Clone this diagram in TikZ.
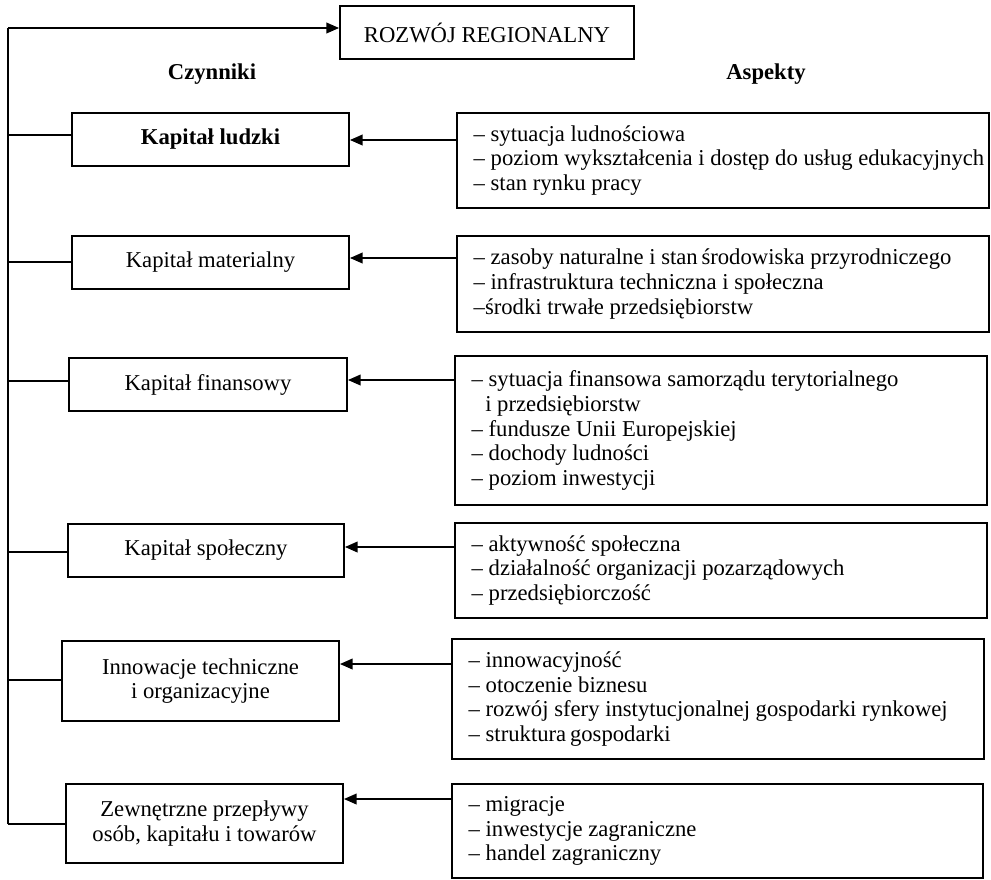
\documentclass[tikz,border=0pt]{standalone}
\usepackage{fontspec}
\setmainfont{Liberation Serif}
\usetikzlibrary{arrows.meta}
\begin{document}
\begin{tikzpicture}[x=0.75pt,y=-0.75pt,
  box/.style={draw, line width=1.4pt, inner sep=0pt},
  sz/.style 2 args={minimum width=#1*0.75pt, minimum height=#2*0.75pt},
  conn/.style={line width=1.2pt},
  arr/.style={line width=1.2pt, -{Triangle[length=9.5pt,width=8pt]}},
  txt/.style={font=\fontsize{17}{18.4}\selectfont},
  head/.style={font=\fontsize{17}{18.4}\selectfont\bfseries, inner sep=0pt},
  lbox/.style={box, txt, align=center},
  lst/.style={txt, anchor=west, align=left, inner sep=0pt, xshift=13pt}]
\useasboundingbox (0,0) rectangle (991,879);

% top box and headings
\node[box, sz={294}{53}, txt] (rr) at (487,32.5) {ROZWÓJ REGIONALNY};
\node[head] (czy) at (212,74) {Czynniki};
\node[head] (asp) at (766,74) {Aspekty};

% factor boxes
\node[lbox, sz={277}{53}] (kl) at (210.5,139.5) {\textbf{Kapitał ludzki}};
\node[lbox, sz={277}{53}] (km) at (210.5,262.5) {Kapitał materialny};
\node[lbox, sz={278}{53}] (kf) at (208,384.5) {Kapitał finansowy};
\node[lbox, sz={276}{53}] (ks) at (206,550.5) {Kapitał społeczny};
\node[lbox, sz={277}{80}] (in) at (200.5,681) {Innowacje techniczne\\i organizacyjne};
\node[lbox, sz={277}{79}] (zp) at (204.5,823.5) {Zewnętrzne przepływy\\osób, kapitału i towarów};

% aspect boxes
\node[box, sz={532}{95}] (r1) at (723,160.5) {};
\node[box, sz={532}{96}] (r2) at (723,284) {};
\node[box, sz={532}{149}] (r3) at (721,430.5) {};
\node[box, sz={532}{95}] (r4) at (721,570.5) {};
\node[box, sz={532}{120}] (r5) at (718,699) {};
\node[box, sz={531}{94}] (r6) at (717.5,831) {};

\node[lst] (t1) at (r1.west) {– sytuacja ludnościowa\\– poziom wykształcenia i dostęp do usług edukacyjnych\\– stan rynku pracy};
\node[lst] (t2) at (r2.west) {– zasoby naturalne i stan\,środowiska przyrodniczego\\– infrastruktura techniczna i społeczna\\–środki trwałe przedsiębiorstw};
\node[lst] (t3) at (r3.west) {– sytuacja finansowa samorządu terytorialnego\\\hspace*{0.6em}i przedsiębiorstw\\– fundusze Unii Europejskiej\\– dochody ludności\\– poziom inwestycji};
\node[lst] (t4) at (r4.west) {– aktywność społeczna\\– działalność organizacji pozarządowych\\– przedsiębiorczość};
\node[lst] (t5) at (r5.west) {– innowacyjność\\– otoczenie biznesu\\– rozwój sfery instytucjonalnej gospodarki rynkowej\\– struktura\,gospodarki};
\node[lst] (t6) at (r6.west) {– migracje\\– inwestycje zagraniczne\\– handel zagraniczny};

% spine
\coordinate (top) at (8,28);
\coordinate (bot) at (8,824);
\draw[conn] (bot) -- (top);
\draw[arr] (top) -- (top -| rr.west);

\coordinate (s1) at (8,135);
\coordinate (s2) at (8,262);
\coordinate (s3) at (8,381);
\coordinate (s4) at (8,552);
\coordinate (s5) at (8,680);
\draw[conn] (s1) -- (s1 -| kl.west);
\draw[conn] (s2) -- (s2 -| km.west);
\draw[conn] (s3) -- (s3 -| kf.west);
\draw[conn] (s4) -- (s4 -| ks.west);
\draw[conn] (s5) -- (s5 -| in.west);
\draw[conn] (bot) -- (bot -| zp.west);

% arrows from aspects to factors
\coordinate (a1) at (457,140);
\coordinate (a2) at (457,258);
\coordinate (a3) at (455,380);
\coordinate (a4) at (455,547);
\coordinate (a5) at (452,664);
\coordinate (a6) at (452,799);
\draw[arr] (a1 -| r1.west) -- (a1 -| kl.east);
\draw[arr] (a2 -| r2.west) -- (a2 -| km.east);
\draw[arr] (a3 -| r3.west) -- (a3 -| kf.east);
\draw[arr] (a4 -| r4.west) -- (a4 -| ks.east);
\draw[arr] (a5 -| r5.west) -- (a5 -| in.east);
\draw[arr] (a6 -| r6.west) -- (a6 -| zp.east);
\end{tikzpicture}
\end{document}
